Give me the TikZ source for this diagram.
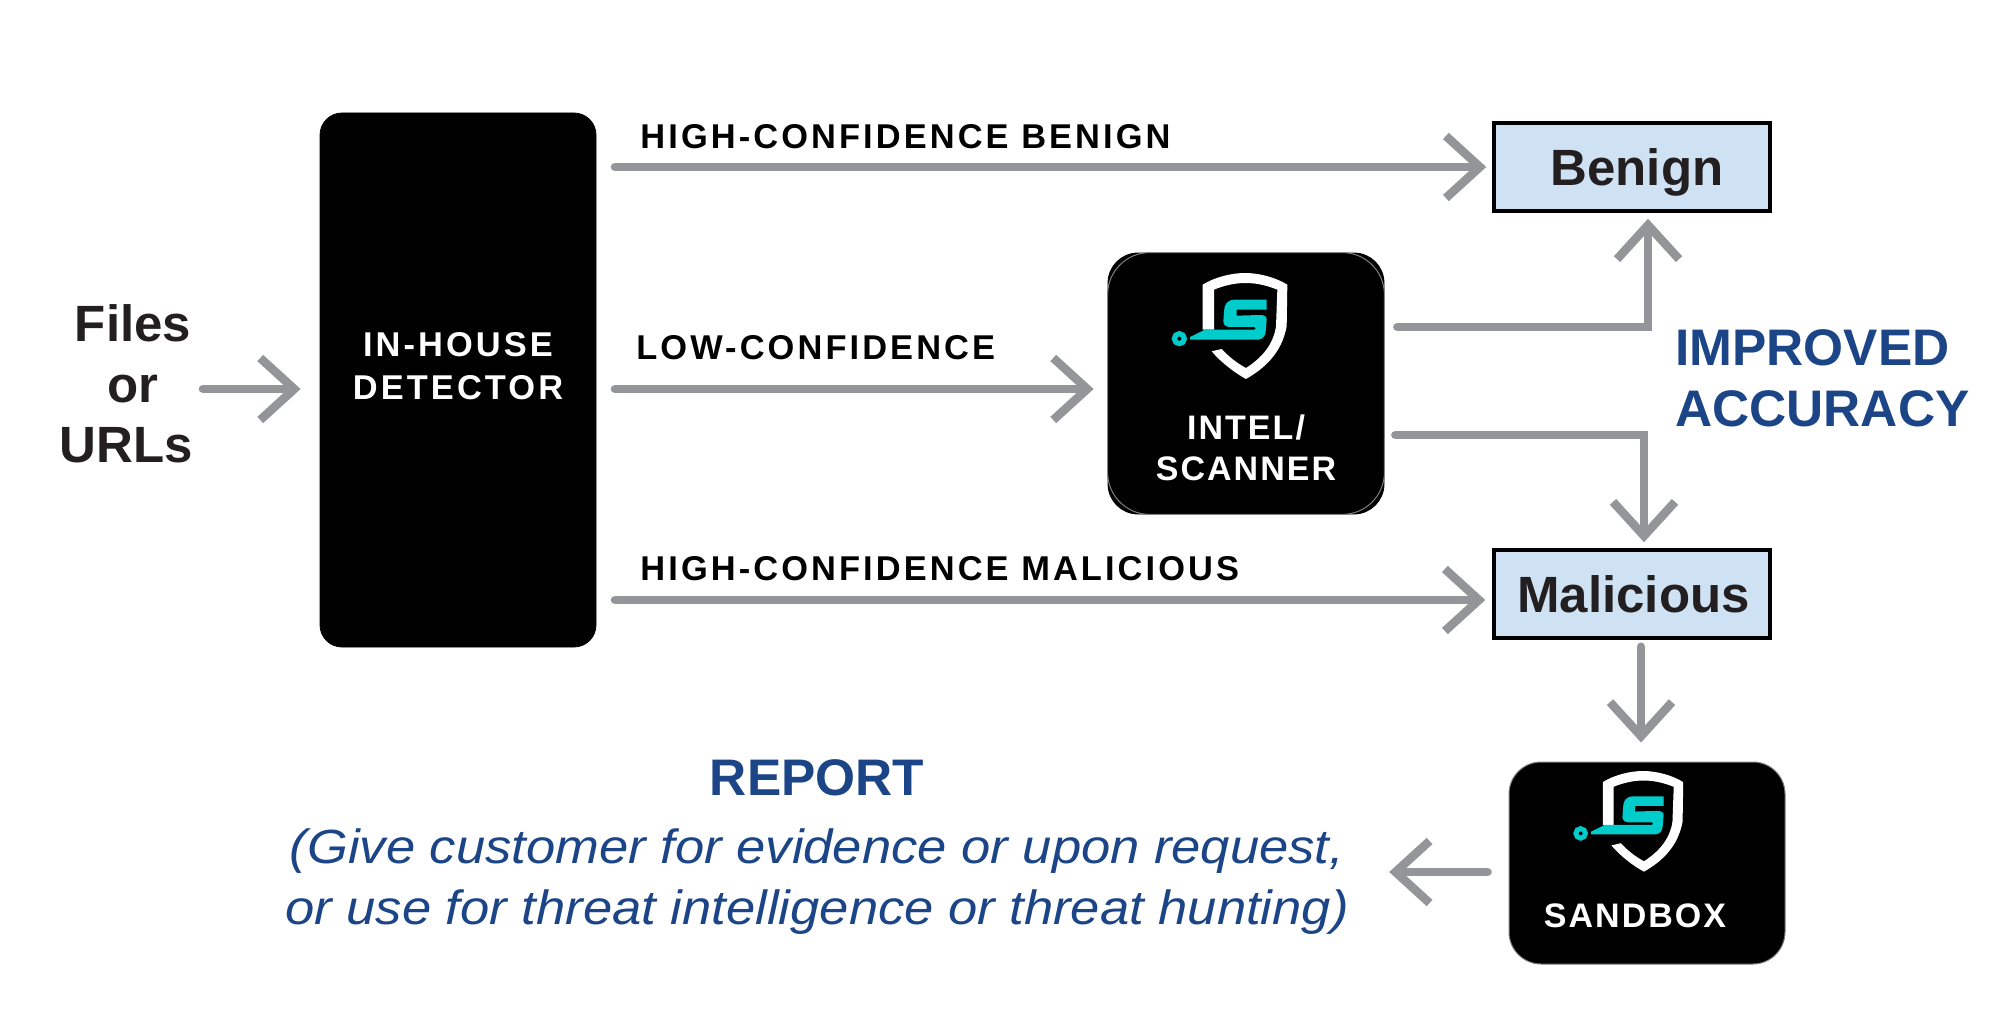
\documentclass[tikz,border=0pt]{standalone}
\usepackage{fontspec}
\setmainfont{Liberation Sans}
\newfontfamily\spaced[LetterSpace=9]{Liberation Sans}
\newfontfamily\spacedb[LetterSpace=6]{Liberation Sans}
\newfontfamily\widefont[FakeStretch=1.095]{Liberation Sans}
\usetikzlibrary{arrows.meta}
\definecolor{flowgray}{HTML}{939598}
\definecolor{reportblue}{HTML}{1B4587}
\definecolor{boxblue}{HTML}{CFE2F3}
\definecolor{ink}{HTML}{231F20}
\definecolor{teal}{HTML}{00CCCC}
\definecolor{hairline}{HTML}{808080}
\tikzset{
  x=0.5pt,y=-0.5pt,
  flow/.style={draw=flowgray,line width=4.3pt,line cap=round,
    -{Straight Barb[length=17pt,width=31pt,line width=4.3pt]}},
  blackbox/.style={fill=black,draw=black,rounded corners=11pt,inner sep=0pt},
  scanbox/.style={fill=black,draw=black,rounded corners=15pt,inner sep=0pt},
  sandboxshape/.style={fill=black,draw=hairline,line width=0.5pt,rounded corners=16pt,inner sep=0pt},
  outcome/.style={fill=boxblue,draw=black,line width=1.75pt,inner sep=0pt,minimum width=138pt,minimum height=44pt,
    font=\fontsize{25.5}{25.5}\selectfont\bfseries,text=ink,text depth=0pt},
  flowlabel/.style={font=\fontsize{17.2}{17.2}\spaced\bfseries,text=black,anchor=west,inner sep=0pt},
  detlabel/.style={font=\fontsize{17.2}{21.7}\spaced\bfseries,text=white,align=center,inner sep=0pt},
  boxlabel/.style={font=\fontsize{17}{20.4}\spacedb\bfseries,text=white,align=center,inner sep=0pt},
  sidetext/.style={font=\fontsize{25.5}{30.3}\selectfont\bfseries,text=ink,align=center,inner sep=0pt},
  accent/.style={font=\fontsize{25.7}{30.5}\selectfont\bfseries,text=reportblue,inner sep=0pt},
  reportnote/.style={font=\fontsize{24}{30.5}\widefont\itshape,text=reportblue,align=center,inner sep=0pt},
}
% logo: origin at top centre of the shield, coordinates in 3x pixels
\newcommand{\shieldlogo}[3]{%
  \begin{scope}[shift={(#1,#2)},x=#3*0.5pt/3,y=-#3*0.5pt/3]
    \fill[white] (-127,35) .. controls (-90,12) and (-40,0) .. (0,0)
      .. controls (40,0) and (90,12) .. (127,35)
      -- (125,160) .. controls (110,240) and (60,285) .. (3,318)
      .. controls (-30,300) and (-70,270) .. (-100,235)
      -- (-70,228) .. controls (-50,250) and (-25,270) .. (3,285)
      .. controls (50,255) and (85,215) .. (93,160)
      -- (97,50) .. controls (60,35) and (30,30) .. (0,30)
      .. controls (-30,30) and (-65,38) .. (-93,50)
      -- (-93,170) -- (-127,170) -- cycle;
    \fill[teal] (65,80) -- (-30,80) .. controls (-55,80) and (-62,95) .. (-63,115)
      -- (-65,145) .. controls (-65,155) and (-58,162) .. (-45,162)
      -- (28,162) .. controls (34,163) and (34,170) .. (28,170)
      -- (-120,170) -- (-165,192) -- (-165,200) -- (-120,200) -- (40,200)
      .. controls (58,198) and (62,185) .. (63,165)
      -- (65,140) .. controls (65,130) and (58,126) .. (45,126)
      -- (-25,128) -- (-25,110) -- (65,110) -- cycle;
    \draw[teal,line width=#3*2.6pt] (-197,197) circle (15);
  \end{scope}}
\begin{document}
\begin{tikzpicture}
\useasboundingbox (0,0) rectangle (2000,1016);
% boxes
\node[blackbox,minimum width=138pt,minimum height=267pt] (det) at (458,380) {};
\node[scanbox,minimum width=138pt,minimum height=130.5pt] (intel) at (1246,383.5) {};
\draw[hairline,line width=0.5pt,rounded corners=21pt] (intel.south west) rectangle (intel.north east);
\node[sandboxshape,minimum width=138pt,minimum height=101pt] (sand) at (1647,863) {};
\node[outcome] (ben) at (1632,167) {\hspace*{5pt}Benign};
\node[outcome] (mal) at (1632,594) {\hspace*{1.5pt}Malicious};
% logos
\shieldlogo{1245}{273}{1}
\shieldlogo{1643}{771}{0.95}
% box texts
\node[detlabel] (detl) at (458,366) {IN-HOUSE\\DETECTOR};
\node[boxlabel] (intl) at (1246,447.5) {INTEL/\\SCANNER};
\node[boxlabel] (sbl) at (1635,916) {SANDBOX};
% free texts
\node[sidetext] (src) at (133,384) {Files\\or\\URLs\hspace*{7pt}};
\node[flowlabel] (l1) at (640,137) {HIGH-CONFIDENCE BENIGN};
\node[flowlabel] (l2) at (636,348) {LOW-CONFIDENCE};
\node[flowlabel] (l3) at (640,569) {HIGH-CONFIDENCE MALICIOUS};
\node[accent,align=left,anchor=west] (acc) at (1675,378) {IMPROVED\\ACCURACY};
\node[accent] (rep) at (817,778) {REPORT};
\node[reportnote] (note) at (817,882) {(Give customer for evidence or upon request,\\or use for threat intelligence or threat hunting)};
% connectors
\draw[flow] ([shift={(-2pt,-2.5pt)}]src.east) -- ([shift={(-9.5pt,-4.5pt)}]det.west);
\draw[flow] ([shift={(9.3pt,106.5pt)}]det.east) -- ([xshift=-3pt]ben.west);
\draw[flow] ([shift={(9.3pt,-4.5pt)}]det.east) -- ([shift={(-7pt,-2.75pt)}]intel.west);
\draw[flow] ([shift={(9.3pt,-110pt)}]det.east) -- ([shift={(-3.5pt,-3pt)}]mal.west);
\draw[flow] ([shift={(6.5pt,28.25pt)}]intel.east) -| ([shift={(8pt,-3pt)}]ben.south);
\draw[flow] ([shift={(5.5pt,-25.75pt)}]intel.east) -| ([shift={(6pt,3pt)}]mal.north);
\draw[flow] ([shift={(4.5pt,-3.5pt)}]mal.south) -- ([shift={(-3pt,9.5pt)}]sand.north);
\draw[flow] ([shift={(-10.5pt,-4.5pt)}]sand.west) -- ([shift={(20pt,5pt)}]note.east);
\end{tikzpicture}
\end{document}
